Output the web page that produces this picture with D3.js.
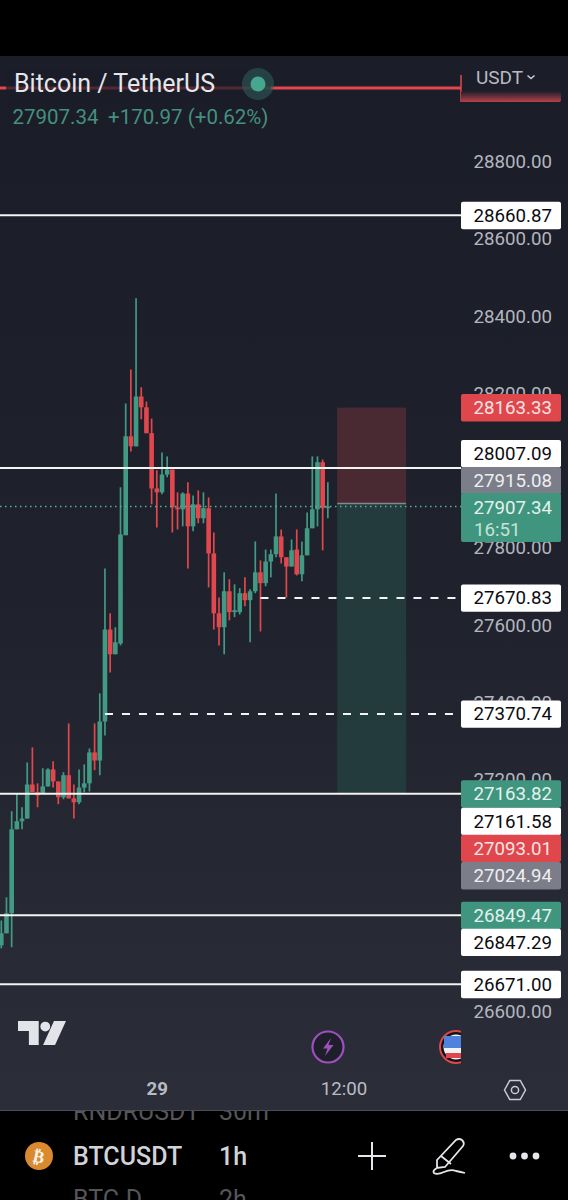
<!DOCTYPE html>
<html>
<head>
<meta charset="utf-8">
<script src="https://cdn.jsdelivr.net/npm/d3@7"></script>
<style>
  html, body { margin: 0; padding: 0; background: #000; }
  text { font-family: Roboto, sans-serif; }
</style>
</head>
<body>
<div id="chart"></div>
<script>
//***************** data *******************/
// candles, bar 0 = the one sitting on the "29" label
var opens = [26772,26803,26855,27072,27093,27100,27188,27168,27165,27183,27227,27196,27155,27212,27152,27142,27180,27191,27271,27250,27351,27589,27525,27553,27833,28089,28063,28192,28164,28097,27954,27944,27990,28003,27905,27900,27941,27856,27913,27877,27903,27786,27631,27595,27688,27634,27634,27683,27665,27688,27737,27709,27765,27784,27830,27776,27752,27796,27732,27781,27851,27900,28022,27903];
var highs = [26836,26896,27119,27165,27129,27245,27284,27191,27230,27230,27248,27196,27220,27346,27188,27227,27240,27281,27346,27424,27747,27631,27595,27957,28174,28262,28446,28216,28179,28135,28001,28047,28037,28003,27944,27944,27970,27936,27949,27944,27931,27840,27672,27737,27719,27706,27696,27724,27693,27817,27768,27796,27796,27941,27848,27776,27822,27848,27817,27892,28037,28037,28029,27970];
var lows = [26764,26803,26767,27072,27072,27100,27168,27129,27165,27183,27180,27137,27150,27152,27100,27137,27168,27170,27225,27212,27315,27478,27525,27548,27833,28050,28063,28133,28097,27913,27853,27939,27983,27840,27848,27856,27747,27843,27864,27864,27698,27589,27548,27525,27613,27621,27628,27649,27556,27683,27584,27701,27724,27776,27760,27672,27752,27729,27714,27781,27851,27856,27794,27877];
var closes = [26803,26855,27072,27093,27100,27188,27168,27160,27183,27227,27196,27155,27212,27152,27142,27180,27191,27271,27250,27351,27589,27525,27556,27835,28089,28063,28192,28164,28097,27954,27944,27990,28003,27905,27900,27941,27856,27913,27877,27903,27786,27631,27595,27688,27634,27639,27683,27665,27688,27737,27709,27765,27784,27830,27776,27752,27794,27732,27781,27851,27900,28022,27903,27907.34];
var firstBar = -30;

var priceTicks = [28800,28600,28400,28200,28000,27800,27600,27400,27200,27000,26800,26600];
var timeTicks = [0,36];
var timeLabels = ["29","12:00"];

// horizontal levels drawn on the chart
var solidLevels = [28660.87,28007.09,27163.82,26849.47,26671.00];
var dashedPrices = [27670.83,27370.74];
var dashedStarts = [20,-10]; // first bar of each dashed line
var lastPrice = 27907.34;

// position tool
var posBars = [34.8,48.1];
var posPrices = [28163.33,27915.08,27163.82];

// price tags on the axis
var tagPrices = [28660.87,28163.33,28007.09,27915.08,27670.83,27370.74,27163.82,27161.58,27093.01,27024.94,26849.47,26847.29,26671.00];
var tagKinds = ["w","r","w","g","w","w","t","w","r","g","t","w","w"];

//************* set dimensions ***************/
var W = 568, H = 1200;
var paneTop = 56, paneBottom = 1110, axisX = 461;
var upCol = "#429a84", downCol = "#e2474d", greyTag = "#7b7d88", tealTag = "#40957f", redTag = "#e0474d";

//************** setup svg  *****************/
var svg = d3.select("#chart").append("svg")
  .attr("width", W).attr("height", H)
  .style("display", "block");

var defs = svg.append("defs");
var bgGrad = defs.append("linearGradient").attr("id", "bg").attr("x1", 0).attr("x2", 0).attr("y1", 0).attr("y2", 1);
bgGrad.append("stop").attr("offset", "0").attr("stop-color", "#1a1c27");
bgGrad.append("stop").attr("offset", "0.5").attr("stop-color", "#1f222d");
bgGrad.append("stop").attr("offset", "1").attr("stop-color", "#2b2e39");
var bandGrad = defs.append("linearGradient").attr("id", "band").attr("x1", 0).attr("x2", 0).attr("y1", 0).attr("y2", 1);
bandGrad.append("stop").attr("offset", "0").attr("stop-color", "#1b1d28");
bandGrad.append("stop").attr("offset", "1").attr("stop-color", "#b5424a");
defs.append("clipPath").attr("id", "plot").append("rect")
  .attr("x", 0).attr("y", paneTop).attr("width", axisX).attr("height", paneBottom - paneTop);
defs.append("clipPath").attr("id", "toolbar").append("rect")
  .attr("x", 0).attr("y", 1111).attr("width", W).attr("height", 89);

svg.append("rect").attr("width", W).attr("height", H).attr("fill", "#000");
svg.append("rect").attr("y", paneTop).attr("width", W).attr("height", paneBottom - paneTop).attr("fill", "url(#bg)");

//***************** scales *******************/
var x = d3.scaleLinear().domain([0, 36]).range([156.8, 343.4]);
var y = d3.scaleLinear().domain([28660.87, 26671]).range([215.3, 984.3]);

//***************** axes *******************/
var yAxis = d3.axisRight(y).tickValues(priceTicks).tickSize(0).tickPadding(0)
  .tickFormat(function(d) { return d3.format(".2f")(d); });
var yG = svg.append("g").attr("transform", "translate(552,0)").call(yAxis);
yG.select(".domain").remove();
yG.selectAll("text").attr("text-anchor", "end").attr("font-size", 18.7).attr("fill", "#b4b6bf").style("font-family", "Roboto");

var xAxis = d3.axisBottom(x).tickValues(timeTicks).tickSize(0).tickPadding(0)
  .tickFormat(function(d, i) { return timeLabels[i]; });
var xG = svg.append("g").attr("transform", "translate(0,1082)").call(xAxis);
xG.select(".domain").remove();
xG.selectAll("text").attr("font-size", 18.7).attr("fill", "#b9bbc4").style("font-family", "Roboto")
  .attr("font-weight", function(d, i) { return i == 0 ? 700 : 400; });

svg.append("line").attr("x1", 0).attr("x2", W).attr("y1", 1110.5).attr("y2", 1110.5).attr("stroke", "#4a4d58");

var plot = svg.append("g").attr("clip-path", "url(#plot)");

//***************** position tool *******************/
plot.append("rect").attr("x", x(posBars[0])).attr("width", x(posBars[1]) - x(posBars[0]))
  .attr("y", y(posPrices[0])).attr("height", y(posPrices[1]) - y(posPrices[0])).attr("fill", "#4a2a32");
plot.append("rect").attr("x", x(posBars[0])).attr("width", x(posBars[1]) - x(posBars[0]))
  .attr("y", y(posPrices[1])).attr("height", y(posPrices[2]) - y(posPrices[1])).attr("fill", "#233b3d");
plot.append("line").attr("x1", x(posBars[0])).attr("x2", x(posBars[1]))
  .attr("y1", y(posPrices[1])).attr("y2", y(posPrices[1])).attr("stroke", "#85878f").attr("stroke-width", 1.5);

//***************** candles *******************/
var bars = plot.selectAll("g.bar").data(opens).enter().append("g").attr("class", "bar");
function col(i) { return closes[i] >= opens[i] ? upCol : downCol; }
bars.append("line")
  .attr("x1", function(d, i) { return x(firstBar + i); })
  .attr("x2", function(d, i) { return x(firstBar + i); })
  .attr("y1", function(d, i) { return y(highs[i]); })
  .attr("y2", function(d, i) { return y(lows[i]); })
  .attr("stroke", function(d, i) { return col(i); })
  .attr("stroke-width", 1.7);
bars.append("rect")
  .attr("x", function(d, i) { return x(firstBar + i) - 2.3; })
  .attr("width", 4.6)
  .attr("y", function(d, i) { return y(Math.max(opens[i], closes[i])); })
  .attr("height", function(d, i) { return Math.max(1.5, Math.abs(y(opens[i]) - y(closes[i]))); })
  .attr("fill", function(d, i) { return col(i); });

//***************** levels *******************/
plot.append("line").attr("x1", 0).attr("x2", axisX).attr("y1", y(lastPrice)).attr("y2", y(lastPrice))
  .attr("stroke", "#5fae9a").attr("stroke-width", 1.3).attr("stroke-dasharray", "1.5 3.5");
plot.selectAll("line.solid").data(solidLevels).enter().append("line").attr("class", "solid")
  .attr("x1", 0).attr("x2", axisX)
  .attr("y1", function(d) { return y(d); }).attr("y2", function(d) { return y(d); })
  .attr("stroke", "#f4f4f4").attr("stroke-width", 2);
plot.selectAll("line.dash").data(dashedPrices).enter().append("line").attr("class", "dash")
  .attr("x1", function(d, i) { return x(dashedStarts[i]); }).attr("x2", axisX)
  .attr("y1", function(d) { return y(d); }).attr("y2", function(d) { return y(d); })
  .attr("stroke", "#f4f4f4").attr("stroke-width", 2).attr("stroke-dasharray", "8 9");

//***************** price tags *******************/
// tags stacked the way the app pushes them apart so they don't collide
var tagShift = { 28007.09: -14.5, 27915.08: -23, 27161.58: 26.5, 27093.01: 27, 27024.94: 28, 26847.29: 26 };
var tagFill = { w: "#ffffff", r: redTag, g: greyTag, t: tealTag };
var tagText = { w: "#0c0c10", r: "#f6e4e4", g: "#eeeef2", t: "#e3f1ed" };
var tagG = svg.selectAll("g.tag").data(tagPrices).enter().append("g").attr("class", "tag")
  .attr("transform", function(d) { return "translate(" + axisX + "," + (y(d) + (tagShift[d] || 0)) + ")"; });
tagG.append("rect").attr("x", 0).attr("y", -13.5).attr("width", 100).attr("height", 27.4).attr("rx", 2)
  .attr("fill", function(d, i) { return tagFill[tagKinds[i]]; });
tagG.append("text").attr("x", 91).attr("y", 6.5).attr("text-anchor", "end").attr("font-size", 18.7)
  .attr("fill", function(d, i) { return tagText[tagKinds[i]]; })
  .text(function(d) { return d3.format(".2f")(d); });

// last price tag with countdown
var lastTag = svg.append("g").attr("transform", "translate(" + axisX + ",0)");
lastTag.append("rect").attr("y", 493).attr("width", 100).attr("height", 49).attr("rx", 2).attr("fill", tealTag);
lastTag.append("text").attr("x", 91).attr("y", 514).attr("text-anchor", "end").attr("font-size", 18.7).attr("fill", "#e3f1ed").text("27907.34");
lastTag.append("text").attr("x", 13).attr("y", 536).attr("font-size", 18.7).attr("fill", "#c6e3da").text("16:51");

//***************** header *******************/
svg.append("rect").attr("x", 0).attr("y", paneTop).attr("width", W).attr("height", 46).attr("fill", "#1b1d28");
svg.append("line").attr("x1", 0).attr("x2", axisX).attr("y1", 88).attr("y2", 88).attr("stroke", downCol).attr("stroke-width", 3);
svg.append("line").attr("x1", 461).attr("x2", 461).attr("y1", 75).attr("y2", 102).attr("stroke", downCol).attr("stroke-width", 1.5);
svg.append("rect").attr("x", 461).attr("y", 91).attr("width", 100).attr("height", 11).attr("rx", 2).attr("fill", "url(#band)");
svg.append("rect").attr("x", 6).attr("y", 68).attr("width", 265).attr("height", 34).attr("fill", "#1b1d28").attr("opacity", 0.72);
svg.append("text").attr("x", 14).attr("y", 92).attr("font-size", 25).attr("fill", "#e6e7ec").text("Bitcoin / TetherUS");
svg.append("circle").attr("cx", 258).attr("cy", 84).attr("r", 16).attr("fill", "#2f5a57").attr("opacity", 0.6);
svg.append("circle").attr("cx", 258).attr("cy", 84).attr("r", 7.5).attr("fill", "#45a78e");
svg.append("text").attr("x", 12.500).attr("y", 124).attr("font-size", 20.500).attr("fill", "#45907e").text("27907.34");
svg.append("text").attr("x", 108).attr("y", 124).attr("font-size", 20.500).attr("fill", "#45907e").text("+170.97 (+0.62%)");
svg.append("text").attr("x", 476).attr("y", 84).attr("font-size", 19).attr("fill", "#b9bbc4").text("USDT");
svg.append("path").attr("d", "M527.5 75.5l3.5 3l3.5-3").attr("fill", "none").attr("stroke", "#c6c8d0").attr("stroke-width", 1.6);

//***************** logo and event icons *******************/
svg.append("g").attr("transform", "translate(18,1020) scale(1.09)").attr("fill", "#e3e4ea").call(function(g) {
  g.append("path").attr("d", "M0 1h19v22h-9v-13h-10z");
  g.append("circle").attr("cx", 25).attr("cy", 6).attr("r", 4.5);
  g.append("path").attr("d", "M33 1h11l-10 22h-11z");
});
svg.append("circle").attr("cx", 328).attr("cy", 1047).attr("r", 15.500).attr("fill", "#1d1f2a").attr("stroke", "#a04fbc").attr("stroke-width", 2.2);
svg.append("path").attr("d", "M331 1038l-8 10.500h4.500l-2.500 7.500l8.500-11h-5z").attr("fill", "#a04fbc");
defs.append("clipPath").attr("id", "flag").append("rect").attr("x", 435).attr("y", 1025).attr("width", 26).attr("height", 45);
var flag = svg.append("g").attr("clip-path", "url(#flag)");
flag.append("circle").attr("cx", 456).attr("cy", 1047).attr("r", 17).attr("fill", "#e0474d");
flag.append("circle").attr("cx", 456).attr("cy", 1047).attr("r", 15).attr("fill", "#121319");
flag.append("circle").attr("cx", 456).attr("cy", 1047).attr("r", 12.5).attr("fill", "#f2f2f4");
flag.append("rect").attr("x", 444).attr("y", 1036).attr("width", 17).attr("height", 12).attr("fill", "#4e82dc");
flag.append("rect").attr("x", 446).attr("y", 1053).attr("width", 15).attr("height", 5).attr("fill", "#e0474d");
svg.append("path").attr("d", "M504.500 1090l5.250-9.500h10.500l5.250 9.500l-5.250 9.500h-10.500z").attr("fill", "none").attr("stroke", "#c9cbd3").attr("stroke-width", 1.5);
svg.append("circle").attr("cx", 515).attr("cy", 1090).attr("r", 3.6).attr("fill", "none").attr("stroke", "#c9cbd3").attr("stroke-width", 1.5);

//***************** bottom toolbar *******************/
// neighbours in the scrolling list are cut by the toolbar edge
var list = svg.append("g").attr("clip-path", "url(#toolbar)").attr("font-size", 25).attr("fill", "#55555a");
list.append("text").attr("x", 73).attr("y", 1120).text("RNDRUSDT");
list.append("text").attr("x", 219).attr("y", 1120).text("30m");
list.append("text").attr("x", 73).attr("y", 1208).text("BTC.D");
list.append("text").attr("x", 219).attr("y", 1208).text("2h");

svg.append("circle").attr("cx", 39).attr("cy", 1156).attr("r", 14).attr("fill", "#d98a2f");
svg.append("text").attr("x", 39).attr("y", 1162.500).attr("text-anchor", "middle").attr("font-size", 17).attr("font-weight", 700)
  .attr("fill", "#fbf3e8").attr("transform", "rotate(12 39 1156)").style("font-family", "DejaVu Sans").text("\u20bf");
svg.append("text").attr("x", 73).attr("y", 1164.500).attr("font-size", 25).attr("font-weight", 500).attr("fill", "#d2d3d8").text("BTCUSDT");
svg.append("text").attr("x", 219).attr("y", 1164.500).attr("font-size", 25).attr("font-weight", 500).attr("fill", "#d2d3d8").text("1h");
svg.append("path").attr("d", "M358 1156h28M372 1142v28").attr("stroke", "#e6e6ea").attr("stroke-width", 2).attr("fill", "none");
svg.append("path").attr("d", "M437 1160l19-20q3-2 6 0q3 3 1 6l-18 21l-8 1zM441 1156l10 8M437 1168q-5 3-3 5q3 2 10-1q7-3 12-1q5 1 9 2")
  .attr("stroke", "#e6e6ea").attr("stroke-width", 1.8).attr("fill", "none");
svg.selectAll("circle.dot").data([0, 1, 2]).enter().append("circle").attr("class", "dot")
  .attr("cx", function(d) { return 513 + d * 11.500; }).attr("cy", 1156).attr("r", 3.4).attr("fill", "#e6e6ea");
</script>
</body>
</html>
